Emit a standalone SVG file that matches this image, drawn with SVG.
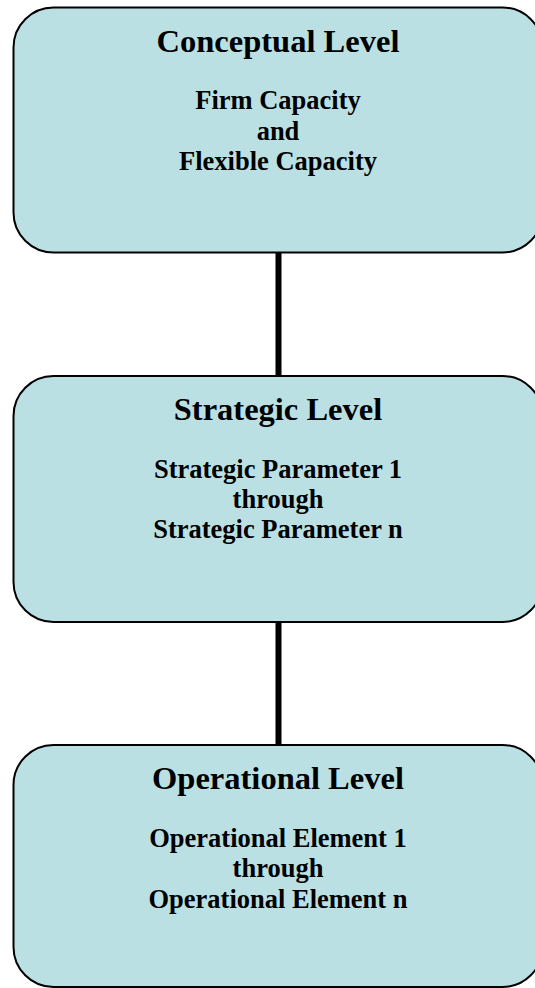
<svg xmlns="http://www.w3.org/2000/svg" width="535" height="988" viewBox="0 0 535 988">
  <style>
    .box { fill: #BBE0E3; stroke: #000000; stroke-width: 2; }
    .link { stroke: #000000; stroke-width: 6; fill: none; }
    .title { font-family: "Liberation Serif", "Times New Roman", serif; font-weight: bold; font-size: 32.5px; text-anchor: middle; fill: #000000; }
    .body { font-family: "Liberation Serif", "Times New Roman", serif; font-weight: bold; font-size: 26.5px; text-anchor: middle; fill: #000000; }
  </style>
  <rect width="535" height="988" fill="#ffffff"/>

  <!-- connectors between levels -->
  <g id="connectors">
    <line class="link" x1="278.5" y1="253" x2="278.5" y2="376"/>
    <line class="link" x1="278.5" y1="622" x2="278.5" y2="745"/>
  </g>

  <g id="conceptual">
    <rect class="box" x="13.5" y="7.5" width="529" height="245" rx="40" ry="40"/>
    <text class="title" x="278" y="52">Conceptual Level</text>
    <text class="body" x="278" y="109">Firm Capacity</text>
    <text class="body" x="278" y="140">and</text>
    <text class="body" x="278" y="170">Flexible Capacity</text>
  </g>

  <g id="strategic">
    <rect class="box" x="13.5" y="376" width="529" height="246" rx="40" ry="40"/>
    <text class="title" x="278" y="420">Strategic Level</text>
    <text class="body" x="278" y="478">Strategic Parameter 1</text>
    <text class="body" x="278" y="508">through</text>
    <text class="body" x="278" y="538">Strategic Parameter n</text>
  </g>

  <g id="operational">
    <rect class="box" x="13.5" y="745" width="529" height="242" rx="40" ry="40"/>
    <text class="title" x="278" y="789">Operational Level</text>
    <text class="body" x="278" y="847">Operational Element 1</text>
    <text class="body" x="278" y="877">through</text>
    <text class="body" x="278" y="908">Operational Element n</text>
  </g>
</svg>
